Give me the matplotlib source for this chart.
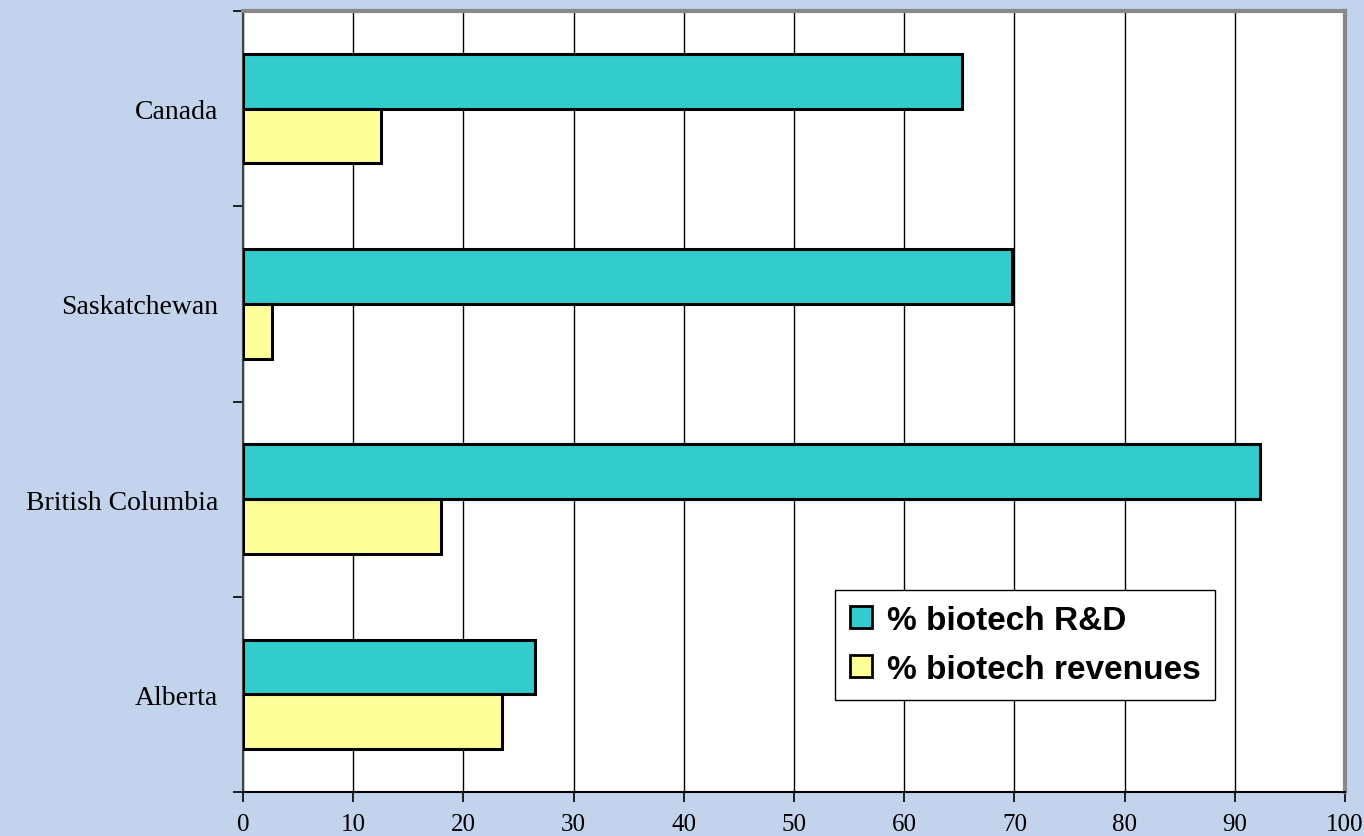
import numpy as np
import matplotlib.pyplot as plt
from matplotlib.patches import Patch

# provinces, bottom to top
regions = ["Alberta", "British Columbia", "Saskatchewan", "Canada"]
rd_pct = [26.5, 92.3, 69.8, 65.2]
rev_pct = [23.5, 18.0, 2.6, 12.5]
x_ticks = [0, 10, 20, 30, 40, 50, 60, 70, 80, 90, 100]

bg = "#C3D3EB"
teal = "#33CCCC"
yellow = "#FFFF99"

fig = plt.figure(figsize=(13.64, 8.37), dpi=100)
fig.patch.set_facecolor(bg)
ax = fig.add_axes([243 / 1364, 1 - 793 / 837, (1345 - 243) / 1364, (793 - 12) / 837])
ax.set_facecolor("white")

y = np.arange(len(regions))
h = 0.28
ax.barh(y + h / 2, rd_pct, height=h, color=teal, edgecolor="black", lw=2.2, zorder=3)
ax.barh(y - h / 2, rev_pct, height=h, color=yellow, edgecolor="black", lw=2.2, zorder=3)

ax.set_xlim(0, 100)
ax.set_ylim(-0.5, len(regions) - 0.5)
ax.set_xticks(x_ticks)
ax.set_xticklabels([str(t) for t in x_ticks], fontsize=18, family="Liberation Serif")
ax.set_yticks(y)
ax.set_yticklabels(regions, fontsize=20, family="Liberation Serif")
ax.tick_params(axis="y", length=0, pad=18)
ax.set_yticks(np.arange(len(regions) + 1) - 0.5, minor=True)
ax.tick_params(axis="y", which="minor", length=7, width=1.2)
ax.tick_params(axis="x", length=7, width=1.2, pad=8)
ax.grid(axis="x", color="black", lw=1, zorder=0)

for s in ["top", "right"]:
    ax.spines[s].set_color("#888888")
    ax.spines[s].set_linewidth(3)
ax.spines["left"].set_linewidth(1.5)
ax.spines["left"].set_color("#444444")
ax.spines["bottom"].set_linewidth(1.5)

handles = [Patch(facecolor=teal, edgecolor="black", lw=2, label="% biotech R&D"),
           Patch(facecolor=yellow, edgecolor="black", lw=2, label="% biotech revenues")]
leg = ax.legend(handles=handles, loc="lower left", bbox_to_anchor=((835 - 243) / 1102, (793 - 701) / 781),
                prop={"family": "Liberation Sans", "weight": "bold", "size": 24},
                frameon=True, fancybox=False, edgecolor="black", framealpha=1,
                handlelength=0.65, handleheight=0.65, handletextpad=0.45, labelspacing=0.55,
                borderpad=0.45, borderaxespad=0)
leg.get_frame().set_linewidth(1)
leg.set_zorder(5)

fig.savefig("out.png", dpi=100, facecolor=bg)
